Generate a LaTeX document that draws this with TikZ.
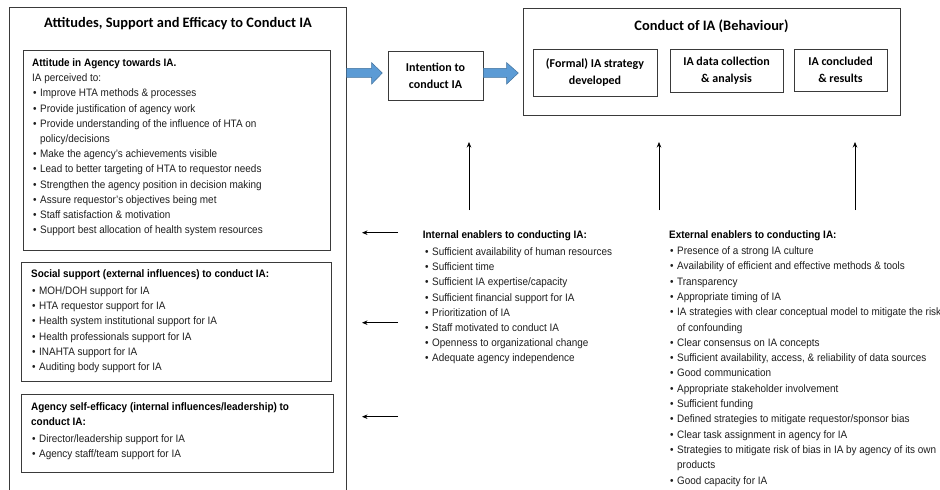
\documentclass[tikz,border=0pt]{standalone}
\usepackage{fontspec}
\usetikzlibrary{arrows.meta}
\newfontfamily\arialn[FakeStretch=0.92]{Liberation Sans}
\newfontfamily\calib{Carlito}
\definecolor{blk}{HTML}{3A3A3A}
\definecolor{blueA}{HTML}{5B9BD5}
\definecolor{blueB}{HTML}{41719C}
\definecolor{txtc}{HTML}{1E1E1E}
\newcommand\mybul[1]{\makebox[7pt][l]{\textbullet}#1}
\newcommand\mycont[1]{\hspace*{7pt}#1}
\begin{document}
\begin{tikzpicture}[x=1pt,y=-1pt,
  box/.style={draw=blk,line width=0.9pt,inner sep=0pt,anchor=north west},
  txt/.style={font=\arialn\fontsize{10.8}{13}\selectfont,text=txtc,anchor=base west,inner sep=0pt},
  hd/.style={txt,font=\arialn\bfseries\fontsize{10.8}{13}\selectfont,text=black},
  ttl/.style={font=\calib\bfseries\fontsize{14.4}{17}\selectfont,anchor=base,inner sep=0pt},
  inbox/.style={box,anchor=center,align=center,font=\calib\bfseries\fontsize{12}{17}\selectfont},
  thinarr/.style={draw=black,line width=0.7pt,-{Stealth[length=5.5pt,width=4.5pt]}},
  blockarr/.style={fill=blueA,draw=blueB,line width=0.5pt}
]
\useasboundingbox (0,0) rectangle (940,490);

% ---------- left panel ----------
\node[box,minimum width=337pt,minimum height=490pt] (outer) at (9,7) {};
\node[ttl] (ttlL) at (178,27.5) {Attitudes, Support and Efficacy to Conduct IA};

\node[box,minimum width=307pt,minimum height=200pt] (b1) at (23,50) {};
\node[hd] (a0) at (32,66.4) {Attitude in Agency towards IA.};
\node[txt] (a1) at (32,81.6) {IA perceived to:};
\foreach \t [count=\i from 2] in {
  {\mybul{Improve HTA methods \& processes}},
  {\mybul{Provide justification of agency work}},
  {\mybul{Provide understanding of the influence of HTA on}},
  {\mycont{policy/decisions}},
  {\mybul{Make the agency’s achievements visible}},
  {\mybul{Lead to better targeting of HTA to requestor needs}},
  {\mybul{Strengthen the agency position in decision making}},
  {\mybul{Assure requestor’s objectives being met}},
  {\mybul{Staff satisfaction \& motivation}},
  {\mybul{Support best allocation of health system resources}}}
  \node[txt] (a\i) at (33,66.4+\i*15.2) {\t};

\node[box,minimum width=310pt,minimum height=119pt] (b2) at (21,262) {};
\node[hd] (s0) at (31,277) {Social support (external influences) to conduct IA:};
\foreach \t [count=\i from 0] in {
  MOH/DOH support for IA,
  HTA requestor support for IA,
  Health system institutional support for IA,
  Health professionals support for IA,
  INAHTA support for IA,
  Auditing body support for IA}
  \node[txt] (s\i x) at (32,294.4+\i*15.2) {\mybul{\t}};

\node[box,minimum width=312pt,minimum height=78pt] (b3) at (21,394) {};
\node[hd] (e0) at (31,410.4) {Agency self-efficacy (internal influences/leadership) to};
\node[hd] (e1) at (31,425.6) {conduct IA:};
\node[txt] (e2) at (32,442) {\mybul{Director/leadership support for IA}};
\node[txt] (e3) at (32,457.2) {\mybul{Agency staff/team support for IA}};

% ---------- intention & conduct ----------
\node[inbox,minimum width=95pt,minimum height=49pt] (int) at (435.5,75.5) {Intention to\\conduct IA};

\node[box,minimum width=377pt,minimum height=107pt] (cond) at (523,8) {};
\node[ttl] (ttlC) at (711.5,30) {Conduct of IA (Behaviour)};
\node[inbox,minimum width=124pt,minimum height=47pt] (c1) at (595,72.5) {(Formal) IA strategy\\developed};
\node[inbox,minimum width=113pt,minimum height=43pt] (c2) at (726.5,70.5) {IA data collection\\\& analysis};
\node[inbox,minimum width=93pt,minimum height=42pt] (c3) at (840.5,70) {IA concluded\\\& results};

% block arrows
\filldraw[blockarr] (346.7,68.3) -- (371.7,68.3) -- (371.7,62.7) -- (382.3,73) -- (371.7,84) -- (371.7,77.3) -- (346.7,77.3) -- cycle;
\filldraw[blockarr] (483.3,68.3) -- (506.7,68.3) -- (506.7,62.7) -- (518.3,73) -- (506.7,84) -- (506.7,77.3) -- (483.3,77.3) -- cycle;

% ---------- enablers ----------
\node[hd] (i0) at (422.7,238.7) {Internal enablers to conducting IA:};
\foreach \t [count=\i from 0] in {
  Sufficient availability of human resources,
  Sufficient time,
  Sufficient IA expertise/capacity,
  Sufficient financial support for IA,
  Prioritization of IA,
  Staff motivated to conduct IA,
  Openness to organizational change,
  Adequate agency independence}
  \node[txt] (i\i x) at (425,255.4+\i*15.2) {\mybul{\t}};

\node[hd] (x0) at (669,238.7) {External enablers to conducting IA:};
\foreach \t [count=\i from 0] in {
  {\mybul{Presence of a strong IA culture}},
  {\mybul{Availability of efficient and effective methods \& tools}},
  {\mybul{Transparency}},
  {\mybul{Appropriate timing of IA}},
  {\mybul{IA strategies with clear conceptual model to mitigate the risk}},
  {\mycont{of confounding}},
  {\mybul{Clear consensus on IA concepts}},
  {\mybul{Sufficient availability, access, \& reliability of data sources}},
  {\mybul{Good communication}},
  {\mybul{Appropriate stakeholder involvement}},
  {\mybul{Sufficient funding}},
  {\mybul{Defined strategies to mitigate requestor/sponsor bias}},
  {\mybul{Clear task assignment in agency for IA}},
  {\mybul{Strategies to mitigate risk of bias in IA by agency of its own}},
  {\mycont{products}},
  {\mybul{Good capacity for IA}}}
  \node[txt] (x\i x) at (670,254.5+\i*15.3) {\t};

% ---------- thin arrows ----------
\coordinate (l1s) at (398,232.7); \coordinate (l1e) at (362,232.7);
\coordinate (l2s) at (398,322.7); \coordinate (l2e) at (362,322.7);
\coordinate (l3s) at (398,416.7); \coordinate (l3e) at (362,416.7);
\draw[thinarr] (l1s) -- (l1e);
\draw[thinarr] (l2s) -- (l2e);
\draw[thinarr] (l3s) -- (l3e);

\coordinate (v1s) at (469,210); \coordinate (v1e) at (469,142);
\coordinate (v2s) at (659,210); \coordinate (v2e) at (659,142);
\coordinate (v3s) at (855,210); \coordinate (v3e) at (855,142);
\draw[thinarr] (v1s) -- (v1e);
\draw[thinarr] (v2s) -- (v2e);
\draw[thinarr] (v3s) -- (v3e);
\end{tikzpicture}
\end{document}
